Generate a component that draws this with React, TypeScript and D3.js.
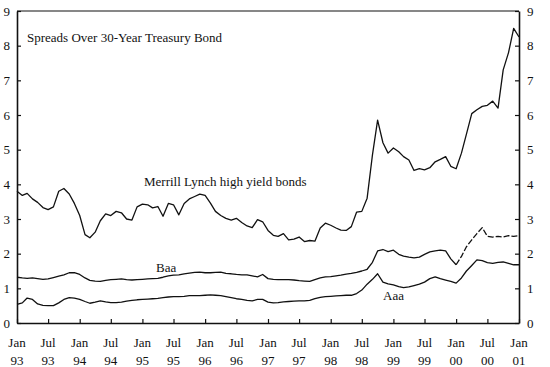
import { useEffect, useRef } from "react";
import * as d3 from "d3";

// monthly spreads, Jan 1993 .. Jan 2001 (percentage points)
const highYield = [
  3.8, 3.68, 3.74, 3.58, 3.48, 3.33, 3.27, 3.35, 3.8, 3.88, 3.72, 3.45,
  3.1, 2.55, 2.46, 2.62, 2.95, 3.15, 3.1, 3.22, 3.18, 3.0, 2.97, 3.35,
  3.43, 3.41, 3.32, 3.36, 3.08, 3.45, 3.41, 3.12, 3.45, 3.58, 3.65, 3.72,
  3.68, 3.46, 3.22, 3.1, 3.02, 2.97, 3.02, 2.9, 2.8, 2.75, 2.98, 2.92,
  2.67, 2.53, 2.5, 2.58, 2.4, 2.42, 2.48, 2.35, 2.38, 2.36, 2.74, 2.88,
  2.82, 2.74, 2.68, 2.67, 2.78, 3.2, 3.22, 3.6, 4.85, 5.85, 5.2, 4.9,
  5.05, 4.94, 4.8, 4.7, 4.4, 4.45, 4.42, 4.48, 4.65, 4.72, 4.8, 4.52,
  4.45, 4.9, 5.45, 6.04, 6.15, 6.25, 6.28, 6.4, 6.2, 7.3, 7.8, 8.5,
  8.25,
];

const baa = [
  1.32, 1.3, 1.29, 1.3, 1.28, 1.26, 1.27, 1.31, 1.35, 1.39, 1.45, 1.45,
  1.4, 1.3, 1.23, 1.21, 1.2, 1.23, 1.25, 1.26, 1.27, 1.25, 1.24, 1.25,
  1.26, 1.27, 1.28, 1.29, 1.32, 1.36, 1.38, 1.39, 1.42, 1.44, 1.46, 1.47,
  1.45, 1.45, 1.46, 1.47, 1.43, 1.42, 1.4, 1.39, 1.39, 1.36, 1.33, 1.4,
  1.28, 1.26, 1.25, 1.25, 1.25, 1.24, 1.22, 1.21, 1.2, 1.25, 1.3, 1.33,
  1.34, 1.36, 1.38, 1.41, 1.43, 1.46, 1.5, 1.55, 1.75, 2.08, 2.12, 2.06,
  2.1, 1.98, 1.93, 1.9, 1.88, 1.9, 1.98, 2.05, 2.08, 2.1, 2.08, 1.85,
  1.68, 1.92, 2.2, 2.4, 2.58, 2.75, 2.5, 2.48, 2.5, 2.48, 2.52, 2.5,
  2.52,
];

const aaa = [
  0.54, 0.58, 0.72, 0.68, 0.55, 0.51, 0.5, 0.5, 0.58, 0.68, 0.73, 0.72,
  0.68, 0.62, 0.57, 0.6, 0.64, 0.61, 0.59, 0.59, 0.6, 0.63, 0.65, 0.67,
  0.68, 0.69, 0.7, 0.71, 0.73, 0.75, 0.76, 0.76, 0.77, 0.79, 0.79, 0.79,
  0.8, 0.81, 0.8, 0.79, 0.76, 0.73, 0.7, 0.68, 0.65, 0.64, 0.68, 0.68,
  0.6, 0.58, 0.59, 0.61, 0.62, 0.63, 0.64, 0.64, 0.65, 0.7, 0.74, 0.76,
  0.77, 0.78, 0.79, 0.8, 0.8, 0.85, 0.95, 1.12, 1.26, 1.42, 1.18, 1.13,
  1.1, 1.05, 1.02, 1.04, 1.08, 1.12, 1.18, 1.28, 1.33, 1.28, 1.24, 1.2,
  1.15, 1.3, 1.5, 1.66, 1.82, 1.8, 1.74, 1.72, 1.75, 1.76, 1.72, 1.68,
  1.68,
];

const yTicks = [0, 1, 2, 3, 4, 5, 6, 7, 8, 9];
const monthLabels = ["Jan", "Jul"];
const yearLabels = ["93", "93", "94", "94", "95", "95", "96", "96", "97", "97", "98", "98", "99", "99", "00", "00", "01"];

const FONT = "Liberation Serif, Times New Roman, DejaVu Serif, serif";
const INK = "#111";

export default function App() {
  const svgRef = useRef<SVGSVGElement>(null);

  useEffect(() => {
    if (!svgRef.current) return;
    const svg = d3.select(svgRef.current);
    svg.selectAll("*").remove();

    const start = new Date(1993, 0, 1);
    const end = new Date(2001, 0, 1);
    const dates = highYield.map((_, i) => d3.timeMonth.offset(start, i));

    const x = d3.scaleTime().domain([start, end]).range([17, 519]);
    const y = d3.scaleLinear().domain([0, 9]).range([323, 11]);

    const styleText = (sel: any) =>
      sel.selectAll("text")
        .style("font-family", FONT)
        .style("font-size", "13px")
        .attr("fill", INK);

    // frame top
    svg.append("line")
      .attr("x1", x(start)).attr("x2", x(end))
      .attr("y1", y(9)).attr("y2", y(9))
      .attr("stroke", INK).attr("stroke-width", 1.2);

    // left axis
    const left = svg.append("g")
      .attr("transform", `translate(${x(start)},0)`)
      .call(d3.axisLeft(y).tickValues(yTicks).tickSize(-4).tickSizeOuter(0).tickPadding(7).tickFormat(d3.format("d")));
    left.select(".domain").attr("stroke", INK).attr("stroke-width", 1.6);
    left.selectAll(".tick line").attr("stroke", INK).attr("stroke-width", 1.2);
    styleText(left);

    // right axis
    const right = svg.append("g")
      .attr("transform", `translate(${x(end)},0)`)
      .call(d3.axisRight(y).tickValues(yTicks).tickSize(-4).tickSizeOuter(0).tickPadding(8).tickFormat(d3.format("d")));
    right.select(".domain").attr("stroke", INK).attr("stroke-width", 1.6);
    right.selectAll(".tick line").attr("stroke", INK).attr("stroke-width", 1.2);
    styleText(right);

    // bottom axis
    const tickDates = d3.timeMonth.every(6)!.range(start, d3.timeMonth.offset(end, 1));
    const bottom = svg.append("g")
      .attr("transform", `translate(0,${y(0)})`)
      .call(d3.axisBottom(x).tickValues(tickDates).tickSize(-4).tickSizeOuter(0).tickFormat(() => ""));
    bottom.select(".domain").attr("stroke", INK).attr("stroke-width", 1.6);
    bottom.selectAll(".tick line").attr("stroke", INK).attr("stroke-width", 1.2);

    const xl = svg.append("g").attr("text-anchor", "middle");
    tickDates.forEach((d, i) => {
      const t = xl.append("text").attr("x", x(d));
      t.append("tspan").attr("x", x(d)).attr("y", 347).text(monthLabels[i % 2]);
      t.append("tspan").attr("x", x(d)).attr("y", 365).text(yearLabels[i]);
    });
    styleText(xl);

    // series
    const line = d3.line<number>()
      .x((_, i) => x(dates[i]))
      .y((v) => y(v));

    const drawSeries = (values: number[], dash?: string, from = 0, to = values.length) => {
      const pts = values.map((v, i) => ({ v, i })).slice(from, to);
      svg.append("path")
        .datum(pts)
        .attr("d", d3.line<{ v: number; i: number }>()
          .x((p) => x(dates[p.i]))
          .y((p) => y(p.v)))
        .attr("fill", "none")
        .attr("stroke", INK)
        .attr("stroke-width", 1.3)
        .attr("stroke-linejoin", "round")
        .attr("stroke-dasharray", dash ?? null);
    };

    svg.append("path")
      .datum(highYield)
      .attr("d", line)
      .attr("fill", "none").attr("stroke", INK).attr("stroke-width", 1.3).attr("stroke-linejoin", "round");
    drawSeries(baa, undefined, 0, 85);
    drawSeries(baa, "6 2", 84);
    drawSeries(aaa);

    // labels
    const lab = svg.append("g");
    lab.append("text").attr("x", 27).attr("y", 42).text("Spreads Over 30-Year Treasury Bond");
    lab.append("text").attr("x", 144).attr("y", 186).text("Merrill Lynch high yield bonds");
    lab.append("text").attr("x", 156).attr("y", 272).text("Baa");
    lab.append("text").attr("x", 383).attr("y", 300).text("Aaa");
    styleText(lab);
  }, []);

  return (
    <svg
      ref={svgRef}
      width={550}
      height={367}
      style={{ position: "absolute", left: 0, top: 0, background: "#fff" }}
    />
  );
}
